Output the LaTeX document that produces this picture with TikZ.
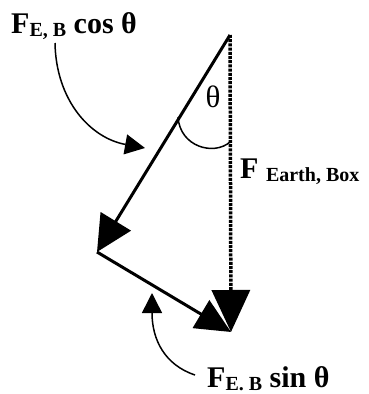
\documentclass[tikz,border=0pt]{standalone}
\usepackage{fontspec}
\setmainfont{Liberation Serif}
\usetikzlibrary{arrows.meta}
\newcommand\mysubs[1]{\raisebox{-3pt}{\fontsize{20}{22}\selectfont #1}}
\begin{document}
\begin{tikzpicture}[x=1pt,y=-1pt,
  vec/.style={line width=3pt},
  bigtip/.style={-{Triangle[length=36pt,width=35pt]}},
  pointer/.style={line width=1.5pt,-{Triangle[length=20pt,width=20pt]}},
  lbl/.style={font=\fontsize{30}{36}\selectfont\bfseries, inner sep=0pt, anchor=base west},
]
\useasboundingbox (0,0) rectangle (368,394);
% vector end points
\coordinate (top) at (230,35);
\coordinate (cosend) at (97,252);
\coordinate (bot) at (231,332);
% pointer ends
\coordinate (p1s) at (55,43);
\coordinate (p1e) at (145,148);
\coordinate (p2s) at (195,375);
\coordinate (p2e) at (152,293);
% labels
\node[lbl] (lcos) at (11,33) {F\mysubs{E, B} cos θ};
\node[lbl] (learth) at (240,178) {F \mysubs{Earth, Box}};
\node[lbl] (lsin) at (207,387) {F\mysubs{E. B} sin θ};
\node[font=\fontsize{31}{36}\selectfont, inner sep=0pt] (th) at (213,97) {θ};
% angle arc
\coordinate (a1) at (178,117);
\coordinate (a2) at (230,142);
\draw[line width=1.5pt] (a1) .. controls (180,147) and (214,156) .. (a2);
% vectors
\draw[vec, bigtip] (top) -- (cosend);
\draw[vec, -{Triangle[length=35pt,width=32pt]}] (cosend) -- (bot);
\draw[line width=3.5pt, dash pattern=on 3pt off 1.2pt, -{Triangle[length=42pt,width=38pt]}] (top) -- (bot);
% pointers
\draw[pointer] (p1s) .. controls (56,100) and (90,138) .. (p1e);
\draw[pointer] (p2s) .. controls (165,365) and (152,340) .. (p2e);
\end{tikzpicture}
\end{document}
